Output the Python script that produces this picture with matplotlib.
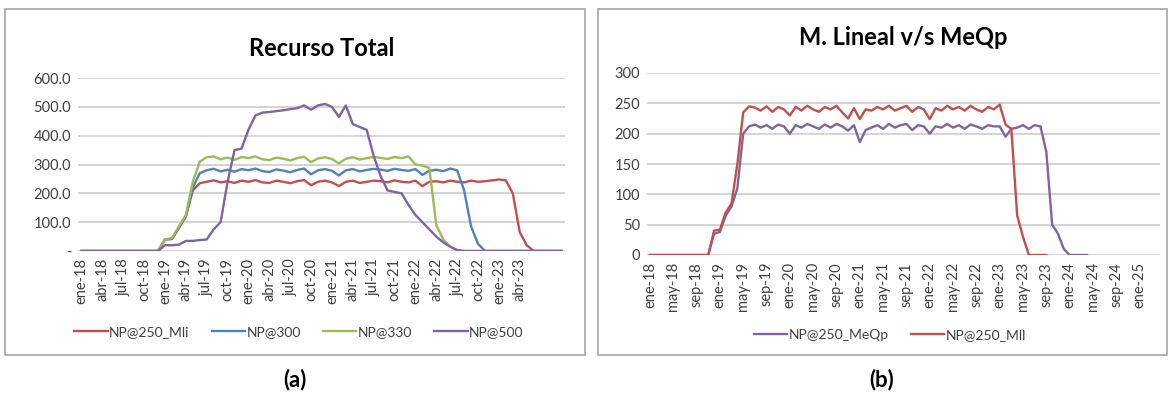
import matplotlib.pyplot as plt
from matplotlib.patches import Rectangle

plt.rcParams['font.family'] = ['Lato', 'DejaVu Sans']

# ---------- datos (a): Recurso Total, mensual ene-18 .. oct-23 ----------
meses_a = ['ene', 'feb', 'mar', 'abr', 'may', 'jun', 'jul', 'ago', 'sep', 'oct', 'nov', 'dic']
fechas_a = [f"{meses_a[i % 12]}-{18 + i // 12}" for i in range(70)]

np250_mli = ([0] * 12 +
             [40, 42, 80, 120, 210, 235,
              240, 245, 238, 242, 236, 244, 240, 246, 238, 236, 244, 240, 235, 242, 246, 228,
              240, 244, 238, 225, 240, 244, 236, 240, 244, 242, 238, 245, 240, 238, 244, 225,
              240, 242, 238, 244, 240, 238, 244, 240, 242, 245, 248, 245,
              200, 65, 20] + [0] * 5)
np300 = ([0] * 12 +
         [40, 42, 80, 120, 220, 270,
          280, 285, 276, 282, 275, 284, 280, 286, 277, 274, 283, 279, 273, 281, 286, 266,
          280, 284, 278, 262, 280, 284, 276, 281, 285, 282, 278, 285, 281, 278, 284, 264,
          278, 282, 277, 286, 280,
          210, 85, 25] + [0] * 12)
np330 = ([0] * 12 +
         [40, 45, 85, 125, 240, 310,
          325, 328, 318, 324, 316, 326, 322, 328, 318, 315, 324, 320, 314, 322, 327, 308,
          321, 325, 319, 304, 320, 325, 317, 322, 326, 323, 319, 326, 322, 328, 300, 296, 288,
          90, 40, 15, 3] + [0] * 15)
np500 = ([0] * 12 +
         [20, 20, 22, 35, 35, 38, 40, 75, 100, 240, 350, 355,
          420, 470, 480, 482, 485, 488, 492, 495, 505, 490, 505, 510,
          500, 465, 505, 440, 430, 420, 330, 260, 210, 205, 200, 160,
          125, 100, 75, 50, 30, 15, 3] + [0] * 15)

# ---------- datos (b): M. Lineal v/s MeQp, mensual ene-18 .. abr-25 ----------
fechas_b = [f"{meses_a[i % 12]}-{18 + i // 12}" for i in range(88)]

np250_meqp = ([0] * 11 +
              [35, 38, 65, 80, 110, 200,
               212, 215, 210, 214, 208, 215, 212, 200, 214, 210, 216, 212, 208, 215, 210, 216,
               212, 205, 214, 186, 206, 210, 214, 208, 216, 210, 214, 216, 206, 214, 212, 200,
               212, 210, 216, 210, 214, 208, 215, 212, 208, 214, 212, 212, 195, 208, 210, 214,
               208, 214, 212,
               170, 50, 35, 10, 0, 0, 0, 0])
np250_mll = ([0] * 11 +
             [40, 42, 70, 85, 150, 235,
              245, 243, 238, 245, 236, 244, 240, 230, 244, 238, 246, 240, 236, 244, 240, 246,
              235, 225, 242, 224, 240, 238, 244, 240, 246, 238, 242, 246, 236, 244, 240, 224,
              242, 238, 246, 240, 244, 238, 246, 240, 236, 244, 240, 248,
              215, 208, 65, 30, 0, 0, 0, 0])

ROJO = '#C0504D'
AZUL = '#4F81BD'
VERDE = '#9BBB59'
MORADO = '#8064A2'
GRIS_GRID = '#d0d0d0'
TXT = '#404040'

W, H = 1169, 399
fig = plt.figure(figsize=(W / 100, H / 100), dpi=100)


def caja(x0, y0, x1, y1):
    # marco gris de cada panel, en pixeles
    fig.patches.append(Rectangle((x0 / W, 1 - y1 / H), (x1 - x0) / W, (y1 - y0) / H,
                                 transform=fig.transFigure, fill=False,
                                 edgecolor='#a6a6a6', lw=1.2))


def ejes(x0, y0, x1, y1):
    return fig.add_axes([x0 / W, 1 - y1 / H, (x1 - x0) / W, (y1 - y0) / H])


def estilo(ax, n, paso, ultimo, etiquetas, ylim, yticks, ylabels):
    ax.set_xlim(-0.5, n - 0.5)
    ax.set_ylim(*ylim)
    ax.set_yticks(yticks)
    ax.set_yticklabels(ylabels, fontsize=10.5, color=TXT)
    pos = list(range(0, ultimo + 1, paso))
    ax.set_xticks(pos)
    ax.set_xticklabels([etiquetas[i] for i in pos], rotation=90, fontsize=10.5, color=TXT)
    ax.grid(axis='y', color=GRIS_GRID, lw=1.3)
    ax.set_axisbelow(True)
    for s in ax.spines.values():
        s.set_visible(False)
    ax.tick_params(length=0, pad=5)


# ---------- panel (a) ----------
caja(5, 9, 585, 355)
ax1 = ejes(78, 78, 565, 251)
x_a = range(len(fechas_a))
ax1.plot(x_a, np250_mli, color=ROJO, lw=1.7, label='NP@250_Mli')
ax1.plot(x_a, np300, color=AZUL, lw=1.7, label='NP@300')
ax1.plot(x_a, np330, color=VERDE, lw=1.7, label='NP@330')
ax1.plot(x_a, np500, color=MORADO, lw=1.7, label='NP@500')
estilo(ax1, len(fechas_a), 3, 63, fechas_a, (0, 600), [0, 100, 200, 300, 400, 500, 600],
       ['-', '100.0', '200.0', '300.0', '400.0', '500.0', '600.0'])
ax1.set_title('Recurso Total', fontsize=17, fontweight='bold', pad=16)
ax1.legend(loc='center', bbox_to_anchor=(299 / W, 1 - 332 / H), bbox_transform=fig.transFigure,
           ncol=4, frameon=False, fontsize=10, handlelength=2.4, handletextpad=0.1,
           columnspacing=1.6, labelcolor=TXT)
fig.text(295 / W, 1 - 380 / H, '(a)', ha='center', va='center', fontsize=16, fontweight='bold')

# ---------- panel (b) ----------
caja(598, 9, 1167, 355)
ax2 = ejes(647, 73, 1160, 255)
ax2.plot(range(len(np250_meqp)), np250_meqp, color=MORADO, lw=1.7, label='NP@250_MeQp')
ax2.plot(range(len(np250_mll)), np250_mll, color=ROJO, lw=1.7, label='NP@250_Mll')
estilo(ax2, len(fechas_b), 4, 84, fechas_b, (0, 300), [0, 50, 100, 150, 200, 250, 300],
       ['0', '50', '100', '150', '200', '250', '300'])
ax2.set_title('M. Lineal v/s MeQp', fontsize=17, fontweight='bold', pad=20)
ax2.legend(loc='center', bbox_to_anchor=(890 / W, 1 - 335 / H), bbox_transform=fig.transFigure,
           ncol=2, frameon=False, fontsize=10, handlelength=2.4, handletextpad=0.1,
           columnspacing=1.6, labelcolor=TXT)
fig.text(882 / W, 1 - 380 / H, '(b)', ha='center', va='center', fontsize=16, fontweight='bold')

fig.savefig('out.png', dpi=100)
